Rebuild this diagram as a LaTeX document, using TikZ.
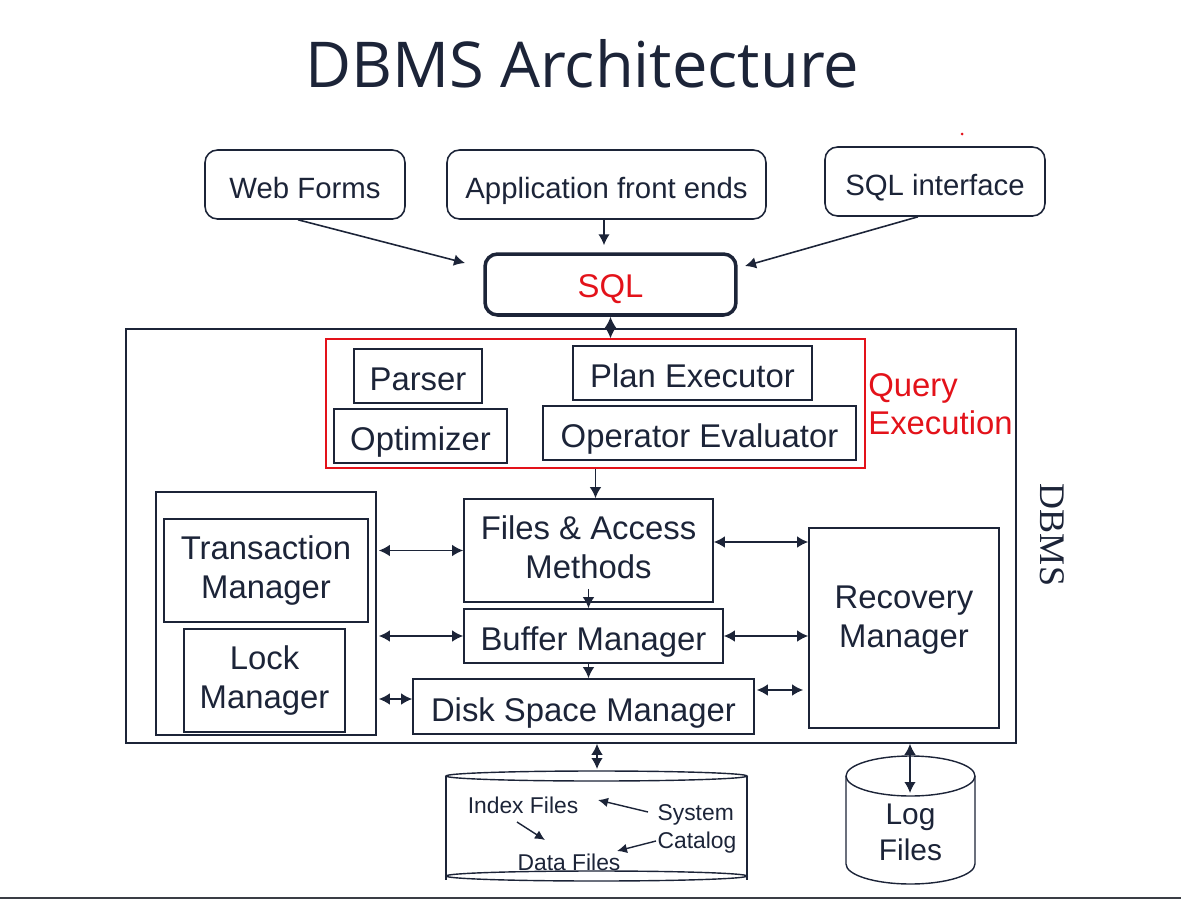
\documentclass[tikz,border=0pt]{standalone}
\usepackage{fontspec}
\setmainfont{Liberation Sans}
\newfontfamily\titlefont{Open Sans}
\newfontfamily\serifont{Liberation Serif}
\usetikzlibrary{arrows.meta,calc}
\definecolor{navy}{HTML}{1C2438}
\definecolor{qred}{HTML}{E3121A}
\definecolor{rule}{HTML}{3A3D45}
\tikzset{
  box/.style={draw=navy, line width=0.9pt, text=navy, inner sep=0pt, align=center,
    font=\fontsize{18.7}{22.2}\selectfont},
  one/.style={text height=16.9pt, text depth=0pt},
  topbox/.style={box, rounded corners=0.25cm, font=\fontsize{16.7}{20}\selectfont,
    minimum height=1.38cm, text height=15.4pt, text depth=0pt},
  lbl/.style={text=navy, inner sep=0pt, align=center},
  dar/.style={{Latex[length=2.2mm,width=2.3mm]}-{Latex[length=2.2mm,width=2.3mm]}, draw=navy, line width=0.9pt},
  sar/.style={-{Latex[length=2.2mm,width=2.3mm]}, draw=navy, line width=0.9pt},
  tar/.style={-{Latex[length=2mm,width=1.9mm]}, draw=navy, line width=0.8pt},
  cyl/.style={draw=navy, line width=0.8pt}
}
\begin{document}
\begin{tikzpicture}[x=0.02cm, y=-0.02cm]
\useasboundingbox (0,0) rectangle (1181,900);

% title
\node[text=navy, inner sep=0pt, font=\titlefont\fontsize{36}{40}\selectfont] (title) at (582,64) {DBMS Architecture};

% front ends
\node[topbox, minimum width=4cm] (web) at (305,184.5) {Web Forms};
\node[topbox, minimum width=6.38cm] (app) at (606.5,184.5) {Application front ends};
\node[topbox, minimum width=4.4cm] (sqli) at (935,181.5) {SQL interface};

\node[box, rounded corners=0.25cm, line width=2pt, minimum width=5.02cm, minimum height=1.22cm,
      text height=15.2pt, text depth=0pt, text=qred] (sql) at (610.5,284.5) {SQL};

% DBMS frame
\node[draw=navy, line width=0.9pt, inner sep=0pt, minimum width=17.8cm, minimum height=8.28cm] (dbms) at (571,536) {};
\node[lbl, rotate=-90, font=\serifont\fontsize{20.5}{22}\selectfont] (dbmslbl) at (1052,535) {DBMS};

% query execution
\node[draw=qred, line width=0.8pt, inner sep=0pt, minimum width=10.78cm, minimum height=2.58cm] (qe) at (595.5,403.5) {};
\node[anchor=west, text=qred, inner sep=0pt, align=left, font=\fontsize{18.7}{21.5}\selectfont] (qelbl) at (868,404) {Query\\Execution};
\node[box, one, minimum width=2.56cm, minimum height=1.08cm] (parser) at (418,376) {Parser};
\node[box, one, minimum width=4.78cm, minimum height=1.08cm] (plan) at (692.5,373) {Plan Executor};
\node[box, one, minimum width=3.46cm, minimum height=1.08cm] (optim) at (420.5,436) {Optimizer};
\node[box, one, minimum width=6.26cm, minimum height=1.08cm] (opeval) at (699.5,433) {Operator Evaluator};

% left group
\node[box, minimum width=4.4cm, minimum height=4.86cm] (leftc) at (266,613.5) {};
\node[box, minimum width=4.08cm, minimum height=2.06cm] (trans) at (266,570.5) {Transaction\\Manager};
\node[box, minimum width=3.22cm, minimum height=2.06cm] (lock) at (264.5,680.5) {Lock\\Manager};

% storage stack
\node[box, text depth=3.4pt, minimum width=4.98cm, minimum height=2.06cm] (files) at (588.5,550.5) {Files \& Access\\Methods};
\node[box, one, minimum width=5.18cm, minimum height=1.08cm] (buffer) at (593.5,636) {Buffer Manager};
\node[box, one, minimum width=6.82cm, minimum height=1.1cm] (disk) at (583.5,706.5) {Disk Space Manager};

% recovery
\node[box, minimum width=3.8cm, minimum height=4cm] (recov) at (904,628) {};
\node[lbl, font=\fontsize{18.7}{22.2}\selectfont] (recovtxt) at (904,620) {Recovery\\Manager};

% database cylinder
\draw[cyl] (596.5,776) ellipse [x radius=3.01cm, y radius=0.1cm];
\draw[cyl] (596.5,876) ellipse [x radius=3.01cm, y radius=0.1cm];
\draw[cyl] (446,776) -- (446,880);
\draw[cyl] (747,776) -- (747,880);
\node[lbl, font=\fontsize{13}{15}\selectfont] (index) at (523,805) {Index Files};
\node[lbl, align=left, font=\fontsize{13}{15.9}\selectfont] (syscat) at (697,829) {System\\Catalog};
\node[lbl, font=\fontsize{13}{15}\selectfont] (data) at (569,862) {Data Files};

% log cylinder
\draw[cyl] (910.5,776) ellipse [x radius=1.29cm, y radius=0.4cm];
\draw[cyl] (846,776) -- (846,864) arc [start angle=180, end angle=360, x radius=1.29cm, y radius=0.4cm] -- (975,776);
\node[lbl, font=\fontsize{17}{20.4}\selectfont] (logtxt) at (910.5,832) {Log\\Files};

% tiny red mark
\fill[qred] (962,134) circle (0.03cm);

% connectors: front ends to SQL
\coordinate (webend) at (465,263);
\coordinate (sqliend) at (745,266);
\draw[sar] ([xshift=-0.14cm]web.south) -- (webend);
\draw[sar, shorten >=0.14cm] ([xshift=-0.05cm]app.south) -- ([xshift=-0.05cm]app.south |- sql.north);
\draw[sar] ([xshift=-0.34cm]sqli.south) -- (sqliend);
\draw[dar] (sql.south) -- (sql.south |- qe.north);

% query execution to files, down the stack
\draw[sar] (qe.south) -- (qe.south |- files.north);
\coordinate (fbstart) at ([yshift=0.28cm]files.south);
\draw[sar] (fbstart) -- (fbstart |- buffer.north);
\draw[sar] (fbstart |- buffer.south) -- (fbstart |- disk.north);

% left group links
\draw[dar] ([xshift=0.04cm]leftc.east |- files.west) -- (files.west);
\draw[dar] ([xshift=0.04cm]leftc.east |- buffer.west) -- (buffer.west);
\draw[dar] ([xshift=0.04cm,yshift=0.15cm]leftc.east |- disk.west) -- ([yshift=0.15cm]disk.west);

% recovery links
\draw[dar] ([yshift=0.17cm]files.east) -- ([yshift=0.17cm]files.east -| recov.west);
\draw[dar] (buffer.east) -- (buffer.east -| recov.west);
\draw[dar, shorten >=0.1cm] ([xshift=0.04cm,yshift=0.33cm]disk.east) -- ([yshift=0.33cm]disk.east -| recov.west);

% to storage
\coordinate (dbtop) at (597,769);
\draw[dar] (dbtop |- dbms.south) -- (dbtop);
\coordinate (logtop) at (910,793);
\draw[dar] (logtop |- dbms.south) -- (logtop);

% inside database cylinder
\coordinate (c1s) at (648,812);
\coordinate (c1e) at (598,800);
\coordinate (c2s) at (517,822);
\coordinate (c2e) at (545,840);
\coordinate (c3s) at (656,841);
\coordinate (c3e) at (617,851);
\draw[tar] (c1s) -- (c1e);
\draw[tar] (c2s) -- (c2e);
\draw[tar] (c3s) -- (c3e);

% bottom rule
\draw[rule, line width=1.6pt] (0,898) -- (1181,898);
\end{tikzpicture}
\end{document}
